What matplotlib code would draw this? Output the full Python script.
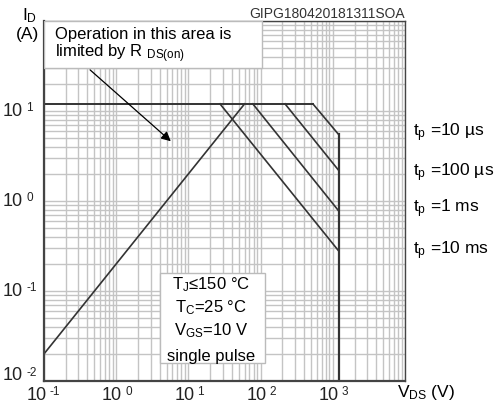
import matplotlib.pyplot as plt
from matplotlib.ticker import LogLocator, NullFormatter, FixedLocator
from matplotlib.patches import Rectangle
from matplotlib.transforms import blended_transform_factory, offset_copy

plt.rcParams['font.family'] = ['Liberation Sans', 'DejaVu Sans']
plt.rcParams['mathtext.fontset'] = 'custom'
plt.rcParams['mathtext.rm'] = 'Liberation Sans'
plt.rcParams['mathtext.it'] = 'Liberation Sans'

# values
rds_v = [0.1, 60]          # V, on-resistance limit line
rds_i = [0.02, 12]         # A
id_max = 12                # A
vds_max = 1200             # V
pulse_labels = ['10 µs', '100 µs', '1 ms', '10 ms']
pulse_v_start = [530, 218, 78, 27.4]   # V where the line leaves Id max
pulse_i_end = [5.5, 2.2, 0.78, 0.28]   # A at Vds max
label_y_px = [133, 173, 209, 251]

x_ticks = [0.1, 1, 10, 100, 1000]
x_exps = ['-1', '0', '1', '2', '3']
y_ticks = [0.01, 0.1, 1, 10]
y_exps = ['-2', '-1', '0', '1']

W, H = 498, 408
fig = plt.figure(figsize=(W / 100, H / 100), dpi=100)
ax = fig.add_axes([44 / W, 1 - 381 / H, 361 / W, 360 / H])
ax.set_xscale('log')
ax.set_yscale('log')
ax.set_xlim(0.1, 10000)
ax.set_ylim(0.01, 100)

ax.xaxis.set_major_locator(FixedLocator([0.1, 1, 10, 100, 1000, 10000]))
ax.yaxis.set_major_locator(FixedLocator([0.01, 0.1, 1, 10, 100]))
ax.xaxis.set_minor_locator(LogLocator(base=10, subs=range(2, 10), numticks=20))
ax.yaxis.set_minor_locator(LogLocator(base=10, subs=range(2, 10), numticks=20))
for a in (ax.xaxis, ax.yaxis):
    a.set_major_formatter(NullFormatter())
    a.set_minor_formatter(NullFormatter())
ax.tick_params(which='both', length=0)
ax.grid(True, which='both', color='#c4c4c4', lw=1.0)
ax.set_axisbelow(True)
for sp in ax.spines.values():
    sp.set_color('#444444')
    sp.set_linewidth(1.0)
ax.spines['left'].set_linewidth(1.6)
ax.spines['bottom'].set_linewidth(1.6)

# tick labels "10" with a small raised exponent
tc = '#222222'
bx = blended_transform_factory(ax.transData, ax.transAxes)
for v, e in zip(x_ticks, x_exps):
    shift = 3 if len(e) > 1 else 6
    t1 = offset_copy(bx, fig=fig, x=shift, y=-15, units='dots')
    t2 = offset_copy(bx, fig=fig, x=shift + 3, y=-11, units='dots')
    ax.text(v, 0, '10', transform=t1, fontsize=13, ha='right', va='center', color=tc, clip_on=False)
    ax.text(v, 0, e, transform=t2, fontsize=8.5, ha='left', va='center', color=tc, clip_on=False)
by = blended_transform_factory(ax.transAxes, ax.transData)
for v, e in zip(y_ticks, y_exps):
    lift = 5 if e == '-2' else 0
    t1 = offset_copy(by, fig=fig, x=-21, y=lift, units='dots')
    t2 = offset_copy(by, fig=fig, x=-18, y=lift + 3, units='dots')
    ax.text(0, v, '10', transform=t1, fontsize=13, ha='right', va='center', color=tc, clip_on=False)
    ax.text(0, v, e, transform=t2, fontsize=8.5, ha='left', va='center', color=tc, clip_on=False)

lc = '#333333'
ax.plot(rds_v, rds_i, color=lc, lw=1.2)
ax.plot([0.1, pulse_v_start[0]], [id_max, id_max], color=lc, lw=1.4)
for vs, ie in zip(pulse_v_start, pulse_i_end):
    ax.plot([vs, vds_max], [id_max, ie], color=lc, lw=1.2)
ax.plot([vds_max, vds_max], [pulse_i_end[0], 0.01], color=lc, lw=1.6)

# white boxes
ax.add_patch(Rectangle((0, 1 - 47 / 360), 218 / 361, 47 / 360, transform=ax.transAxes,
                       facecolor='white', edgecolor='#bbbbbb', lw=1, zorder=3))
ax.text(11 / 361, 1 - 13 / 360, 'Operation in this area is', transform=ax.transAxes,
        fontsize=12, va='center', ha='left', zorder=4)
ax.text(11 / 361, 1 - 33 / 360, r'limited by R $_\mathregular{DS(on)}$', transform=ax.transAxes,
        fontsize=12, va='center', ha='left', zorder=4)
ax.annotate('', xy=(6.1, 4.4), xytext=(0.407, 30),
            arrowprops=dict(arrowstyle='-|>', color='black', lw=0.9, mutation_scale=14), zorder=5)

ax.add_patch(Rectangle((116 / 361, 18 / 360), 105 / 361, 90 / 360, transform=ax.transAxes,
                       facecolor='white', edgecolor='#bbbbbb', lw=1, zorder=3))
cond = [r'T$_\mathregular{J}$≤150 °C', r'T$_\mathregular{C}$=25 °C',
        r'V$_\mathregular{GS}$=10 V', 'single pulse']
cond_y = [285, 308, 331, 356]
for s, y in zip(cond, cond_y):
    fig.text(211 / W, 1 - y / H, s, fontsize=12, ha='center', va='center', zorder=4)

for s, y in zip(pulse_labels, label_y_px):
    fig.text(413 / W, 1 - y / H, r't$_\mathregular{p}$ =' + s, fontsize=12.5, ha='left', va='center')

fig.text(405 / W, 1 - 14 / H, 'GIPG180420181311SOA', fontsize=10, ha='right', va='center',
         color='#333333')
fig.text(22 / W, 1 - 16 / H, r'I$_\mathregular{D}$', fontsize=12.5, ha='left', va='center')
fig.text(16 / W, 1 - 35 / H, '(A)', fontsize=12.5, ha='left', va='center')
fig.text(397 / W, 1 - 393 / H, r'V$_\mathregular{DS}$ (V)', fontsize=12.5, ha='left', va='center')

fig.savefig('out.png', dpi=100)
